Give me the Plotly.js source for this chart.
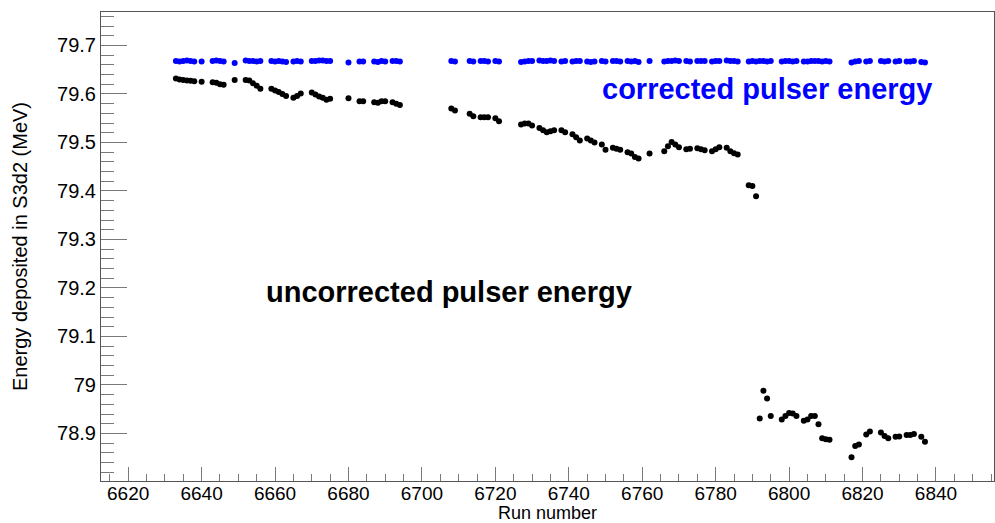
<!DOCTYPE html>
<html>
<head>
<meta charset="utf-8">
<script src="https://cdn.plot.ly/plotly-3.0.1.min.js"></script>
<style>
  html, body { margin: 0; padding: 0; background: #fff; }
  #chart { width: 995px; height: 523px; }
</style>
</head>
<body>
<div id="chart"></div>
<script>
// Run numbers of the pulser calibration runs
const runs = [
  6633, 6634, 6635, 6636, 6637, 6638, 6640, 6643, 6644, 6645, 6646, 6649,
  6652, 6653, 6654, 6655, 6656, 6659, 6660, 6661, 6662, 6663, 6665, 6666, 6667,
  6670, 6671, 6672, 6673, 6674, 6675, 6680, 6683, 6684, 6687, 6688, 6689, 6690,
  6692, 6693, 6694,
  6708, 6709, 6713, 6714, 6716, 6717, 6718, 6720, 6721,
  6727, 6728, 6729, 6730, 6732, 6733, 6734, 6735, 6736, 6738, 6739, 6741, 6742,
  6743, 6745, 6746, 6747, 6749, 6750, 6752, 6753, 6754, 6756, 6757, 6758, 6759,
  6762, 6766, 6767, 6768, 6769, 6770, 6772, 6773, 6775, 6776, 6777, 6779, 6780,
  6781, 6783, 6784, 6785, 6786,
  6789, 6790, 6791,
  6792, 6793, 6794, 6795, 6798, 6799, 6800, 6801, 6802, 6804, 6805, 6806, 6807,
  6808, 6809, 6810, 6811, 6817, 6818, 6819, 6821, 6822, 6825, 6826, 6827, 6829,
  6830, 6832, 6833, 6834, 6836, 6837
];

// Uncorrected pulser energy (MeV)
const uncorrected = [
  79.632, 79.630, 79.629, 79.628, 79.627, 79.626, 79.625, 79.624, 79.623, 79.620, 79.619, 79.629,
  79.629, 79.628, 79.622, 79.617, 79.611, 79.611, 79.607, 79.604, 79.600, 79.596, 79.592, 79.596, 79.601,
  79.603, 79.599, 79.595, 79.592, 79.588, 79.590, 79.591, 79.585, 79.585, 79.583, 79.582, 79.585, 79.585,
  79.583, 79.580, 79.577,
  79.570, 79.566, 79.559, 79.554, 79.552, 79.552, 79.552, 79.550, 79.544,
  79.537, 79.539, 79.539, 79.535, 79.530, 79.525, 79.521, 79.523, 79.525, 79.525, 79.521, 79.517, 79.511,
  79.504, 79.508, 79.504, 79.500, 79.496, 79.485, 79.489, 79.487, 79.485, 79.480, 79.477, 79.470, 79.467,
  79.477, 79.482, 79.492, 79.501, 79.496, 79.490, 79.486, 79.487, 79.488, 79.486, 79.484, 79.482, 79.486,
  79.490, 79.489, 79.482, 79.478, 79.475,
  79.412, 79.410, 79.389,
  78.931, 78.988, 78.972, 78.936, 78.929, 78.936, 78.942, 78.941, 78.936, 78.926, 78.929, 78.936, 78.936,
  78.919, 78.890, 78.888, 78.887, 78.851, 78.874, 78.877, 78.898, 78.904, 78.902, 78.895, 78.890, 78.893,
  78.894, 78.897, 78.897, 78.899, 78.893, 78.883
];

// Corrected pulser energy (MeV)
const corrected = [
  79.668, 79.667, 79.668, 79.669, 79.668, 79.667, 79.667, 79.668, 79.669, 79.668, 79.667, 79.664,
  79.669, 79.668, 79.668, 79.667, 79.668, 79.668, 79.667, 79.668, 79.667, 79.666, 79.667, 79.668, 79.667,
  79.668, 79.668, 79.669, 79.669, 79.668, 79.668, 79.665, 79.667, 79.667, 79.667, 79.666, 79.668, 79.667,
  79.668, 79.668, 79.667,
  79.668, 79.667, 79.668, 79.667, 79.668, 79.668, 79.667, 79.668, 79.667,
  79.666, 79.667, 79.668, 79.668, 79.669, 79.668, 79.668, 79.669, 79.668, 79.667, 79.668, 79.667, 79.668,
  79.668, 79.667, 79.666, 79.667, 79.668, 79.667, 79.668, 79.668, 79.667, 79.668, 79.667, 79.668, 79.666,
  79.668, 79.667, 79.668, 79.668, 79.669, 79.668, 79.668, 79.667, 79.668, 79.668, 79.668, 79.667, 79.668,
  79.668, 79.669, 79.668, 79.668, 79.667,
  79.667, 79.668, 79.667,
  79.668, 79.668, 79.667, 79.668, 79.667, 79.668, 79.668, 79.667, 79.668, 79.667, 79.667, 79.668, 79.668,
  79.668, 79.667, 79.668, 79.667, 79.665, 79.667, 79.668, 79.667, 79.668, 79.668, 79.667, 79.668, 79.667,
  79.668, 79.667, 79.667, 79.668, 79.666, 79.665
];

const FONT = 'Liberation Sans, Arial, Helvetica, sans-serif';
const TICK_COLOR = '#7a7a7a';
const LINE_COLOR = '#555555';

const traces = [
  {
    type: 'scatter', mode: 'markers', name: 'uncorrected',
    x: runs, y: uncorrected,
    marker: { color: '#000000', size: 6, symbol: 'circle' },
    hoverinfo: 'x+y'
  },
  {
    type: 'scatter', mode: 'markers', name: 'corrected',
    x: runs, y: corrected,
    marker: { color: '#0000ff', size: 6, symbol: 'circle' },
    hoverinfo: 'x+y'
  }
];

const layout = {
  width: 995, height: 523,
  margin: { l: 101, r: 1, t: 12, b: 42, pad: 0 },
  paper_bgcolor: '#ffffff', plot_bgcolor: '#ffffff',
  showlegend: false,
  font: { family: FONT, size: 18, color: '#000' },
  xaxis: {
    range: [6612.6, 6855.8],
    tick0: 6620, dtick: 20,
    ticks: 'inside', ticklen: 14, tickwidth: 1, tickcolor: TICK_COLOR,
    minor: { tick0: 6620, dtick: 5, ticks: 'inside', ticklen: 7, tickwidth: 1, tickcolor: TICK_COLOR, showgrid: false },
    showline: true, linecolor: LINE_COLOR, linewidth: 1, mirror: true,
    showgrid: false, zeroline: false,
    ticklabelstandoff: -5,
    tickfont: { family: FONT, size: 19, color: '#000' },
    title: { text: 'Run number', font: { family: FONT, size: 18, color: '#000' }, standoff: 0 }
  },
  yaxis: {
    range: [78.802, 79.769],
    tick0: 78.9, dtick: 0.1,
    ticks: 'inside', ticklen: 26, tickwidth: 1, tickcolor: TICK_COLOR,
    minor: { tick0: 78.9, dtick: 0.02, ticks: 'inside', ticklen: 13, tickwidth: 1, tickcolor: TICK_COLOR, showgrid: false },
    showline: true, linecolor: LINE_COLOR, linewidth: 1, mirror: true,
    showgrid: false, zeroline: false,
    tickfont: { family: FONT, size: 20, color: '#000' },
    title: { text: 'Energy deposited in S3d2 (MeV)', font: { family: FONT, size: 20, color: '#000' }, standoff: 24 }
  },
  annotations: [
    {
      xref: 'x', yref: 'y', x: 6794.0, y: 79.610,
      text: 'corrected pulser energy', showarrow: false,
      xanchor: 'center', yanchor: 'middle',
      font: { family: FONT, size: 29, color: '#0000ff', weight: 'bold' }
    },
    {
      xref: 'x', yref: 'y', x: 6707.4, y: 79.191,
      text: 'uncorrected pulser energy', showarrow: false,
      xanchor: 'center', yanchor: 'middle',
      font: { family: FONT, size: 29, color: '#000000', weight: 'bold' }
    }
  ]
};

Plotly.newPlot('chart', traces, layout, { displayModeBar: false, staticPlot: true });
</script>
</body>
</html>
